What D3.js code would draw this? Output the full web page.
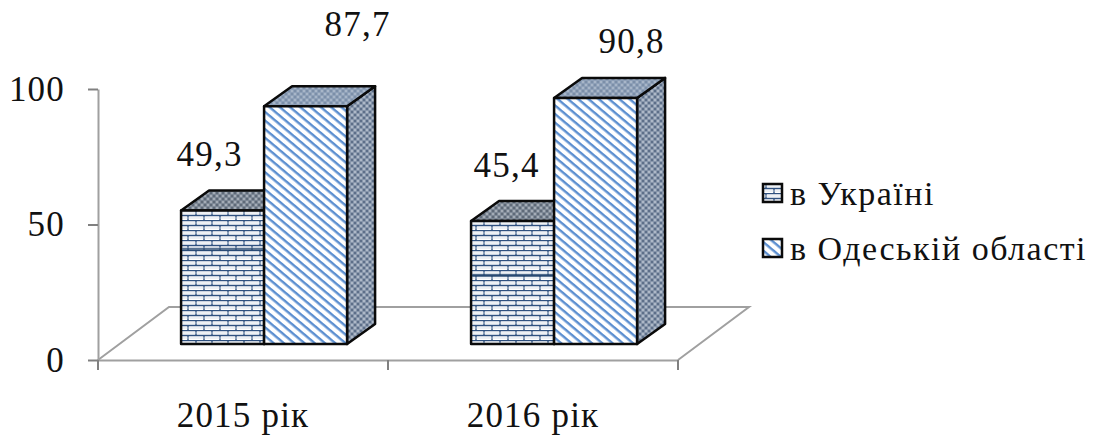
<!DOCTYPE html>
<html>
<head>
<meta charset="utf-8">
<script src="https://cdn.jsdelivr.net/npm/d3@7"></script>
<style>
    body { margin: 0; background: #fff; }
    text { font-family: "Liberation Serif", serif; fill: #111; }
    .axis path, .axis line { stroke: #808080; stroke-width: 2; }
    .axis text { font-size: 35px; letter-spacing: 1.2px; }
    .axis .domain { stroke: #a0a0a0; }
</style>
</head>
<body>
<div id="chart"></div>
<script>
var categories = ["2015 рік", "2016 рік"];
var seriesNames = ["в Україні", "в Одеській області"];
var ukraine = [49.3, 45.4];
var odesa = [87.7, 90.8];
var valueLabels = [["49,3", "45,4"], ["87,7", "90,8"]];
var yTicks = [0, 50, 100];

var svgWidth = 1093;
var svgHeight = 436;

var plot = { left: 98, right: 678, top: 89, bottom: 360 };
var depth = { x: 28, y: 20 };      // bar depth
var floor = { x: 71, y: 53 };      // chart floor depth
var barLift = 16;                  // bars stand this far above the axis line

var svg = d3.select("#chart")
    .append("svg")
    .attr("width", svgWidth)
    .attr("height", svgHeight);

// fills
var defs = svg.append("defs");

var brick = defs.append("pattern")
    .attr("id", "brick")
    .attr("patternUnits", "userSpaceOnUse")
    .attr("width", 16)
    .attr("height", 10);
brick.append("rect").attr("width", 16).attr("height", 10).attr("fill", "#fff");
brick.append("path")
    .attr("d", "M0 .5H16M0 5.5H16M4 0V5M12 5V10")
    .attr("stroke", "#2f5180")
    .attr("stroke-width", 1.4)
    .attr("fill", "none");
brick.append("path")
    .attr("d", "M0 3H16M0 8H16")
    .attr("stroke", "#ccd6e2")
    .attr("stroke-width", 0.7);

var stripe = defs.append("pattern")
    .attr("id", "stripe")
    .attr("patternUnits", "userSpaceOnUse")
    .attr("width", 6.6)
    .attr("height", 6.6)
    .attr("patternTransform", "rotate(40)");
stripe.append("rect").attr("width", 6.6).attr("height", 6.6).attr("fill", "#fff");
stripe.append("rect").attr("width", 6.6).attr("height", 2.4).attr("fill", "#5c8fd0");

function dither(id, base, dot, dot2) {
    var p = defs.append("pattern")
        .attr("id", id)
        .attr("patternUnits", "userSpaceOnUse")
        .attr("width", 6)
        .attr("height", 6);
    p.append("rect").attr("width", 6).attr("height", 6).attr("fill", base);
    p.append("path").attr("d", "M0 0h2v2h-2zM3 3h2v2h-2z").attr("fill", dot);
    p.append("path").attr("d", "M3 0h2v2h-2zM0 3h2v2h-2z").attr("fill", dot2);
}
dither("topBrick", "#7d8896", "#5f6a78", "#a4acb6");
dither("sideBrick", "#7f8b9b", "#5f6d80", "#a5afbc");
dither("topStripe", "#8ea0b8", "#7c8fa8", "#a8b6c8");
dither("sideStripe", "#8796ab", "#5d6f89", "#aeb9c8");

// scales
var yScale = d3.scaleLinear()
    .domain([0, 100])
    .range([plot.bottom, plot.top]);

var xScale = d3.scaleBand()
    .domain(categories)
    .range([plot.left, plot.right]);

var innerScale = d3.scaleBand()
    .domain(seriesNames)
    .range([0, xScale.bandwidth()])
    .paddingOuter(0.747)
    .paddingInner(0)
    .align(0.67);

// floor
var floorPts = [
    [plot.left, plot.bottom],
    [plot.left + floor.x, plot.bottom - floor.y],
    [plot.right + floor.x, plot.bottom - floor.y],
    [plot.right, plot.bottom]
];
svg.append("path")
    .attr("d", d3.line()(floorPts))
    .attr("fill", "none")
    .attr("stroke", "#a0a0a0")
    .attr("stroke-width", 2);

// axes
var leftAxis = d3.axisLeft(yScale)
    .tickValues(yTicks)
    .tickSize(10)
    .tickSizeOuter(0)
    .tickPadding(23);

svg.append("g")
    .attr("class", "axis")
    .attr("transform", `translate(${plot.left}, 0)`)
    .call(leftAxis);

var bottomAxis = d3.axisBottom(xScale)
    .tickSize(0)
    .tickPadding(42);

var xAxis = svg.append("g")
    .attr("class", "axis")
    .attr("transform", `translate(0, ${plot.bottom})`)
    .call(bottomAxis);

// ticks sit between the categories
xAxis.selectAll(".edge")
    .data(categories.concat("end"))
    .enter()
    .append("line")
    .attr("class", "edge")
    .attr("x1", (d, i) => plot.left + i * xScale.step())
    .attr("x2", (d, i) => plot.left + i * xScale.step())
    .attr("y1", 0)
    .attr("y2", 10);

// bars
function drawBar(cat, name, value, face, top, side, band) {
    var x0 = xScale(cat) + innerScale(name);
    var x1 = x0 + innerScale.bandwidth();
    var y0 = yScale(value) - barLift;
    var y1 = plot.bottom - barLift;
    var g = svg.append("g")
        .attr("stroke", "#0a0a0a")
        .attr("stroke-width", 2.5)
        .attr("stroke-linejoin", "round");

    g.append("path")
        .attr("d", d3.line()([[x1, y0], [x1 + depth.x, y0 - depth.y], [x1 + depth.x, y1 - depth.y], [x1, y1]]) + "Z")
        .attr("fill", `url(#${side})`);
    g.append("path")
        .attr("d", d3.line()([[x0, y0], [x0 + depth.x, y0 - depth.y], [x1 + depth.x, y0 - depth.y], [x1, y0]]) + "Z")
        .attr("fill", `url(#${top})`);
    g.append("rect")
        .attr("x", x0)
        .attr("y", y0)
        .attr("width", x1 - x0)
        .attr("height", y1 - y0)
        .attr("fill", `url(#${face})`);

    // the brick fill has a darker streak across it
    if (band) {
        svg.append("rect")
            .attr("x", x0 + 1)
            .attr("y", y0 + (y1 - y0) * band)
            .attr("width", x1 - x0 - 2)
            .attr("height", 3)
            .attr("fill", "#26476f")
            .attr("opacity", 0.75);
    }
}

var brickStreak = [0.28, 0.43];

categories.forEach(function (cat, i) {
    drawBar(cat, seriesNames[0], ukraine[i], "brick", "topBrick", "sideBrick", brickStreak[i]);
    drawBar(cat, seriesNames[1], odesa[i], "stripe", "topStripe", "sideStripe");
});

// value labels
var labelOffsets = [[[-13, -44], [-6, -44]], [[52, -70], [36, -45]]];
var labelSeries = [ukraine, odesa];
labelSeries.forEach(function (values, s) {
    values.forEach(function (v, i) {
        svg.append("text")
            .attr("x", xScale(categories[i]) + innerScale(seriesNames[s]) + innerScale.bandwidth() / 2 + labelOffsets[s][i][0])
            .attr("y", yScale(v) - barLift + labelOffsets[s][i][1])
            .attr("text-anchor", "middle")
            .attr("font-size", 35)
            .attr("letter-spacing", 1.2)
            .text(valueLabels[s][i]);
    });
});

// legend
var legendY = d3.scalePoint()
    .domain(seriesNames)
    .range([193, 248]);

var legend = svg.selectAll(".legend")
    .data(seriesNames)
    .enter()
    .append("g")
    .attr("class", "legend")
    .attr("transform", d => `translate(762, ${legendY(d)})`);

legend.append("rect")
    .attr("x", 1)
    .attr("y", -9)
    .attr("width", 19)
    .attr("height", 18)
    .attr("fill", (d, i) => i === 0 ? "url(#brick)" : "url(#stripe)")
    .attr("stroke", "#0a0a0a")
    .attr("stroke-width", 2.5);

legend.append("text")
    .attr("x", 28)
    .attr("y", 12)
    .attr("font-size", 34)
    .attr("letter-spacing", 1.5)
    .text(d => d);
</script>
</body>
</html>
